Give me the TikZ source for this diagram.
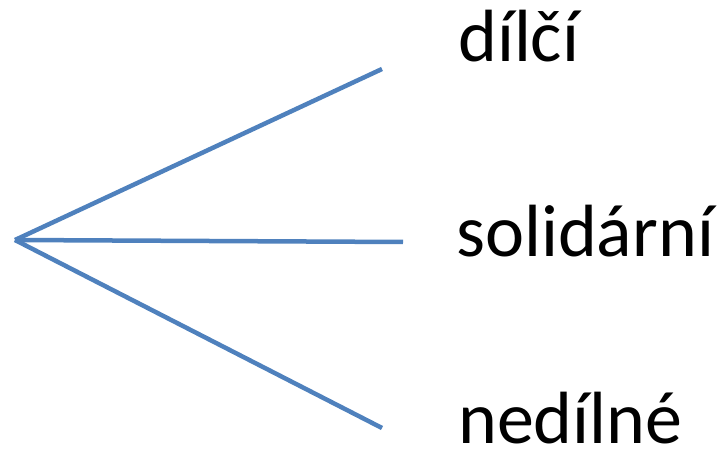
\documentclass[tikz,border=0pt]{standalone}
\usepackage{fontspec}
\setmainfont{Carlito}
\definecolor{lineblue}{HTML}{4F81BD}
\tikzset{
  branch/.style={draw=lineblue, line width=4.5bp},
  lbl/.style={anchor=base west, inner sep=0pt, text depth=0pt, font=\fontsize{74bp}{80bp}\selectfont}
}
\begin{document}
\begin{tikzpicture}[x=1bp,y=-1bp]
\useasboundingbox (0,0) rectangle (721,459);
\coordinate (apex) at (15,240);
\coordinate (e1) at (382,69);
\coordinate (e2) at (403,242);
\coordinate (e3) at (382,428);
\draw[branch] (apex) -- (e1);
\draw[branch] (apex) -- (e2);
\draw[branch] (apex) -- (e3);
\node[lbl] (t1) at (458,62) {dílčí};
\node[lbl] (t2) at (456,257) {solidární};
\node[lbl] (t3) at (458,443) {nedílné};
\end{tikzpicture}
\end{document}
